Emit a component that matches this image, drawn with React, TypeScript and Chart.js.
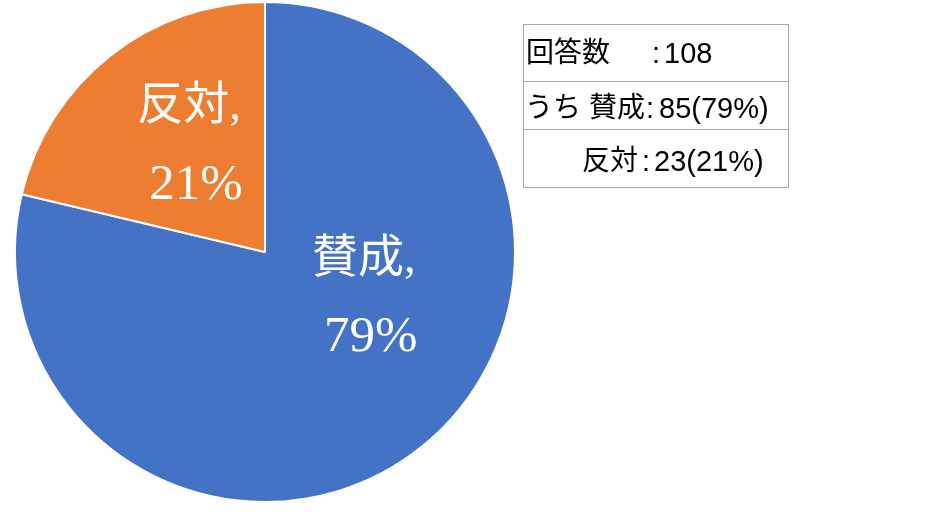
import { useEffect, useRef } from "react"
import { Chart, registerables } from "chart.js"

Chart.register(...registerables)

const categories = ["賛成", "反対"]
const counts = [85, 23]
const sliceColors = ["#4472C4", "#ED7D31"]

const total = counts.reduce((a, b) => a + b, 0)
const percents = counts.map((v) => Math.round((v / total) * 100))

// where each slice's label sits: degrees clockwise from 12 o'clock, fraction of radius
const labelPlacement = [
  { angle: 114, r: 0.45 },
  { angle: 326, r: 0.515 },
]

const sliceLabels = {
  id: "sliceLabels",
  afterDatasetsDraw(chart: Chart) {
    const ctx = chart.ctx
    const meta = chart.getDatasetMeta(0)
    ctx.save()
    ctx.fillStyle = "#ffffff"
    ctx.textAlign = "center"
    ctx.textBaseline = "middle"
    meta.data.forEach((arc: any, i: number) => {
      const { x, y, outerRadius } = arc.getProps(["x", "y", "outerRadius"], true)
      const p = labelPlacement[i]
      const a = (p.angle * Math.PI) / 180
      const cx = x + Math.sin(a) * p.r * outerRadius
      const cy = y - Math.cos(a) * p.r * outerRadius
      ctx.font = "46px 'Liberation Serif', 'Noto Sans CJK JP'"
      ctx.fillText(categories[i] + ",", cx - 4, cy - 38)
      ctx.font = "51px 'Liberation Serif'"
      ctx.fillText(percents[i] + "%", cx + 3, cy + 40)
    })
    ctx.restore()
  },
}

function SummaryBox() {
  const font = "'Liberation Sans', 'Noto Sans CJK JP', sans-serif"
  const txt = (left: number, top: number, s: string, size = 28) => (
    <span
      style={{
        position: "absolute",
        left,
        top,
        fontFamily: font,
        fontSize: size,
        lineHeight: "30px",
        color: "#000",
        whiteSpace: "pre",
      }}
    >
      {s}
    </span>
  )
  const line = (top: number) => (
    <div style={{ position: "absolute", left: 523, top, width: 265, height: 1, background: "#a6a6a6" }} />
  )
  return (
    <>
      <div
        style={{
          position: "absolute",
          left: 523,
          top: 24,
          width: 264,
          height: 162,
          border: "1px solid #a6a6a6",
          boxSizing: "content-box",
        }}
      />
      {line(81)}
      {line(129)}
      {txt(526, 38, "回答数")}
      {txt(652, 38, ":", 29)}
      {txt(664, 38, String(total), 29)}
      {txt(525, 93, "うち")}
      {txt(589, 93, categories[0])}
      {txt(646, 93, ":", 29)}
      {txt(659, 93, `${counts[0]}(${percents[0]}%)`, 29)}
      {txt(582, 146, categories[1])}
      {txt(642, 146, ":", 29)}
      {txt(654, 146, `${counts[1]}(${percents[1]}%)`, 29)}
    </>
  )
}

export default function App() {
  const chartRef = useRef<HTMLCanvasElement>(null)
  const chartInstance = useRef<Chart | null>(null)

  useEffect(() => {
    if (!chartRef.current) return
    if (chartInstance.current) chartInstance.current.destroy()
    const ctx = chartRef.current.getContext("2d")
    if (!ctx) return

    chartInstance.current = new Chart(ctx, {
      type: "pie",
      data: {
        labels: categories,
        datasets: [
          {
            data: counts,
            backgroundColor: sliceColors,
            borderColor: "#ffffff",
            borderWidth: 2,
          },
        ],
      },
      options: {
        responsive: false,
        animation: false,
        layout: { padding: { left: 14, right: 414, top: 1, bottom: 9 } },
        plugins: {
          legend: { display: false },
          tooltip: { enabled: false },
        },
      },
      plugins: [sliceLabels],
    })

    return () => {
      if (chartInstance.current) {
        chartInstance.current.destroy()
        chartInstance.current = null
      }
    }
  }, [])

  return (
    <div style={{ position: "fixed", left: 0, top: 0, width: 930, height: 512, background: "#fff" }}>
      <canvas ref={chartRef} width={930} height={512} style={{ position: "absolute", left: 0, top: 0, width: 930, height: 512 }} />
      <SummaryBox />
    </div>
  )
}
